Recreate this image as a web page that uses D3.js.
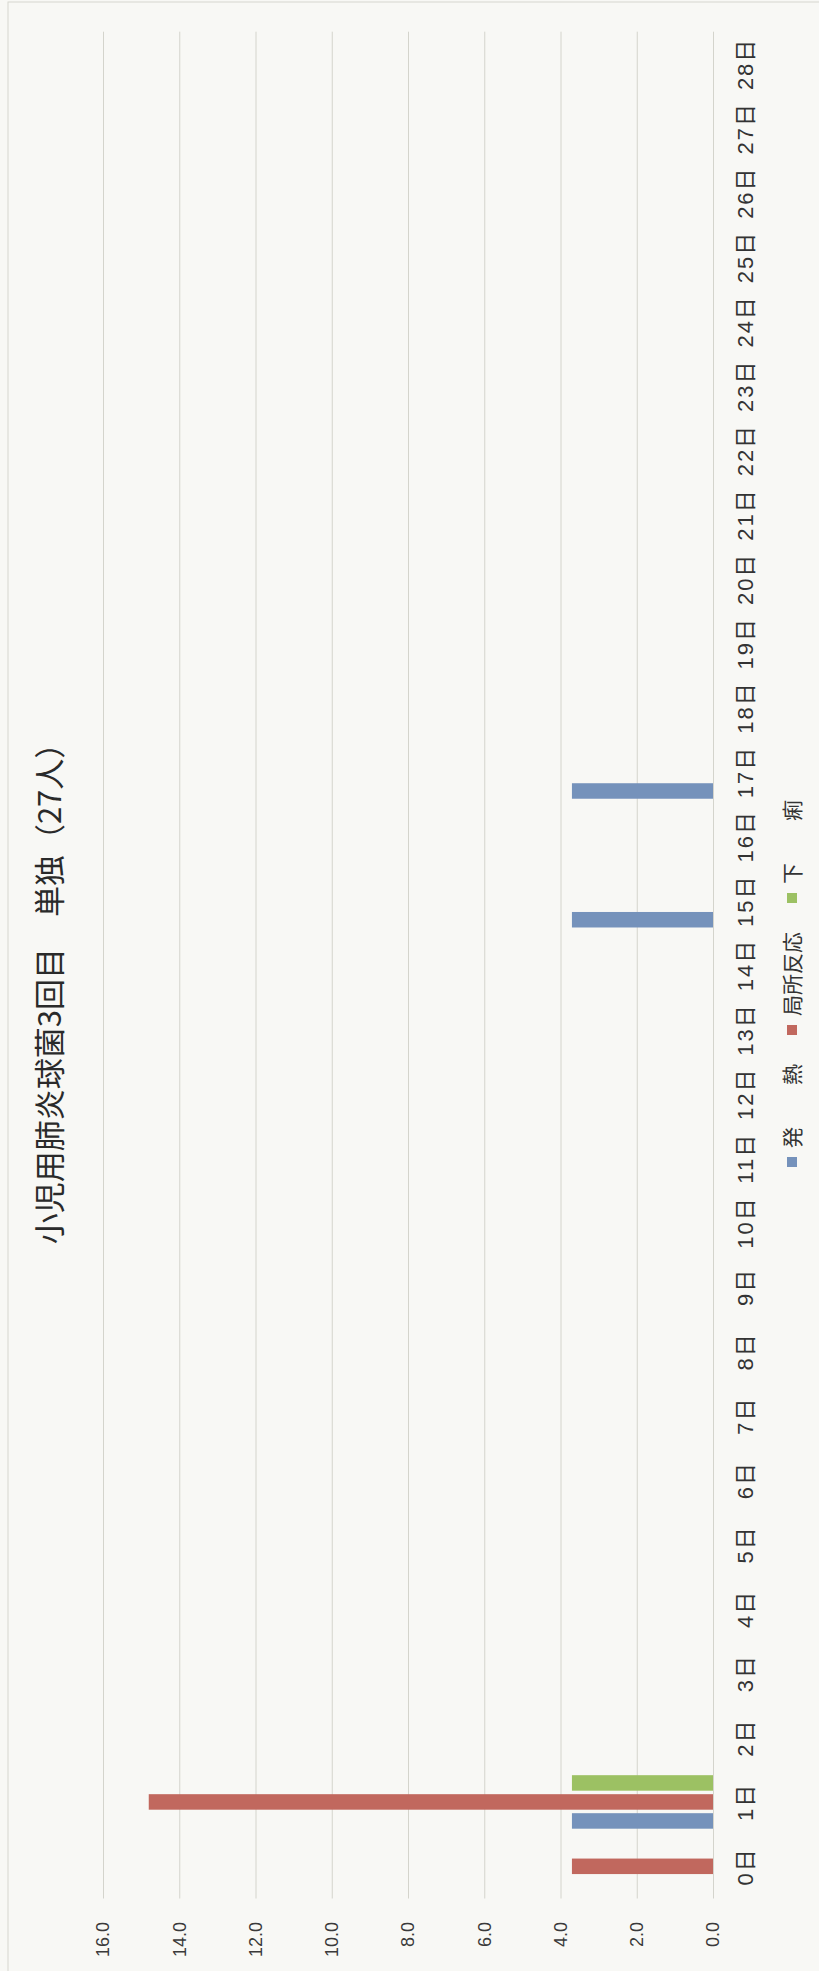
<!DOCTYPE html>
<html>
<head>
<meta charset="utf-8">
<script src="https://cdn.jsdelivr.net/npm/d3@7"></script>
<style>
  html, body { margin: 0; padding: 0; background: #f8f8f5; }
  svg { display: block; }
</style>
</head>
<body>
<script>
// ---- data ----
const categories = ["0日","1日","2日","3日","4日","5日","6日","7日","8日","9日","10日","11日","12日","13日","14日","15日","16日","17日","18日","19日","20日","21日","22日","23日","24日","25日","26日","27日","28日"];
const seriesNames = ["発熱", "局所反応", "下痢"];
const legendLabels = ["発　　熱", "局所反応", "下　　痢"];
const feverValues = [0,3.7,0,0,0,0,0,0,0,0,0,0,0,0,0,3.7,0,3.7,0,0,0,0,0,0,0,0,0,0,0];
const localValues = [3.7,14.8,0,0,0,0,0,0,0,0,0,0,0,0,0,0,0,0,0,0,0,0,0,0,0,0,0,0,0];
const diarrheaValues = [0,3.7,0,0,0,0,0,0,0,0,0,0,0,0,0,0,0,0,0,0,0,0,0,0,0,0,0,0,0];
const valueTicks = [0,2,4,6,8,10,12,14,16];
const valueTickLabels = ["0.0","2.0","4.0","6.0","8.0","10.0","12.0","14.0","16.0"];
const titleText = "小児用肺炎球菌3回目　単独（27人）";
const seriesColors = ["#7592bb", "#c1685e", "#9cc163"];

const W = 819, H = 1971;
const seriesValues = [feverValues, localValues, diarrheaValues];

const svg = d3.select("body").append("svg").attr("width", W).attr("height", H);
svg.append("rect").attr("width", W).attr("height", H).attr("fill", "#f8f8f5");

// chart drawn in landscape, rotated 90deg counter-clockwise
const g = svg.append("g").attr("transform", `translate(0,${H}) rotate(-90)`);

// chart border
g.append("rect").attr("x", -10).attr("y", 8).attr("width", 1979).attr("height", 830)
  .attr("fill", "none").attr("stroke", "#d6d6d0").attr("stroke-width", 1);

const plotL = 72.5, plotR = 1939.3;
const x0 = d3.scaleBand().domain(categories).range([plotL, plotR]).padding(0);
const x1 = d3.scaleBand().domain(seriesNames).range([0, x0.bandwidth()])
  .paddingInner(0.184).paddingOuter(0.286);
const y = d3.scaleLinear().domain([0, 16]).range([713, 103]);

// value axis with gridlines
const yAxis = d3.axisLeft(y).tickValues(valueTicks)
  .tickFormat((d, i) => valueTickLabels[i])
  .tickSize(-(plotR - plotL)).tickPadding(23.5);
const ya = g.append("g").attr("transform", `translate(${plotL},0)`).call(yAxis);
ya.select(".domain").remove();
ya.selectAll(".tick line").attr("stroke", "#d4d4cc").attr("stroke-width", 1);
ya.selectAll(".tick text").attr("fill", "#3a3a3a")
  .style("font-family", "'Liberation Sans', Arial, sans-serif").style("font-size", "18px");

// category axis
const xAxis = d3.axisBottom(x0).tickSize(0).tickPadding(24);
const xa = g.append("g").attr("transform", `translate(0,${y(0)})`).call(xAxis);
xa.select(".domain").remove();
xa.selectAll(".tick text").attr("fill", "#333")
  .style("font-family", "'Liberation Sans', 'Noto Sans CJK JP', sans-serif")
  .style("font-size", "22px").style("letter-spacing", "2px");

// bars
const barData = [];
seriesNames.forEach((s, si) => {
  categories.forEach((c, ci) => {
    barData.push({ s, si, c, v: seriesValues[si][ci] });
  });
});
g.append("g").selectAll("rect").data(barData.filter(d => d.v > 0)).join("rect")
  .attr("x", d => x0(d.c) + x1(d.s))
  .attr("width", x1.bandwidth())
  .attr("y", d => y(d.v))
  .attr("height", d => y(0) - y(d.v))
  .attr("fill", d => seriesColors[d.si]);

// legend
const legend = g.append("g").attr("transform", "translate(804,792)");
const itemStep = 132;
seriesNames.forEach((s, i) => {
  const it = legend.append("g").attr("transform", `translate(${i * itemStep},0)`);
  it.append("rect").attr("x", 0).attr("y", -5).attr("width", 10).attr("height", 10)
    .attr("fill", seriesColors[i]);
  it.append("text").attr("x", 19).attr("y", 0).attr("dy", "0.36em")
    .attr("fill", "#333")
    .style("font-family", "'Noto Sans CJK JP', sans-serif").style("font-size", "21px")
    .text(legendLabels[i]);
});

// title
g.append("text").attr("x", 985).attr("y", 50).attr("dy", "0.36em")
  .attr("text-anchor", "middle").attr("fill", "#2a2a2a")
  .style("font-family", "'Noto Sans CJK JP', sans-serif").style("font-size", "31px")
  .text(titleText);
</script>
</body>
</html>
